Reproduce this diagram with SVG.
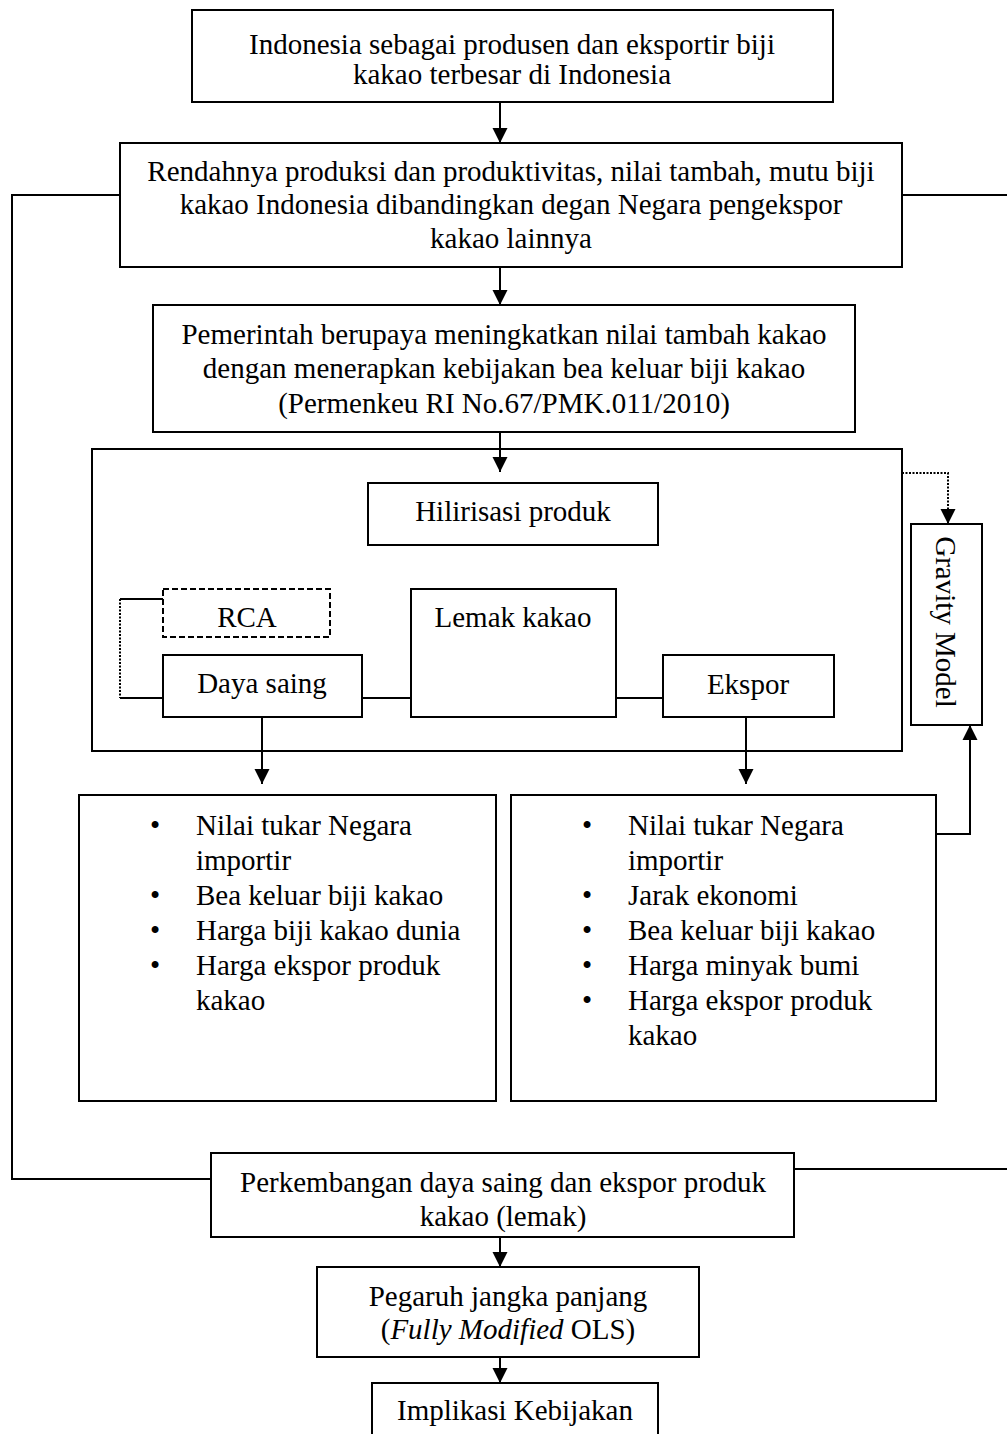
<svg xmlns="http://www.w3.org/2000/svg" width="1007" height="1434" viewBox="0 0 1007 1434">
<style>
  .box { fill: #fff; stroke: #000; stroke-width: 2; }
  .dash { fill: #fff; stroke: #000; stroke-width: 2; stroke-dasharray: 6 3; }
  .t { font-family: "Liberation Serif", "Times New Roman", serif; font-size: 29px; fill: #000; }
  .c { text-anchor: middle; }
  .ln { fill: none; stroke: #000; stroke-width: 2; }
  .dot { fill: none; stroke: #000; stroke-width: 2; stroke-dasharray: 2 1.5; }
</style>
<defs>
  <marker id="ah" markerUnits="userSpaceOnUse" markerWidth="16" markerHeight="16" viewBox="0 0 16 16" refX="15" refY="8" orient="auto">
    <path d="M0,0.5 L15,8 L0,15.5 Z" fill="#000"/>
  </marker>
</defs>
<rect width="1007" height="1434" fill="#fff"/>

<g id="connectors">
  <line class="ln" x1="500" y1="102" x2="500" y2="143" marker-end="url(#ah)"/>
  <line class="ln" x1="500" y1="267" x2="500" y2="305" marker-end="url(#ah)"/>
  <line class="ln" x1="500" y1="432" x2="500" y2="472" marker-end="url(#ah)"/>
  <line class="ln" x1="262" y1="717" x2="262" y2="784" marker-end="url(#ah)"/>
  <line class="ln" x1="746" y1="717" x2="746" y2="784" marker-end="url(#ah)"/>
  <line class="ln" x1="362" y1="698" x2="411" y2="698"/>
  <line class="ln" x1="616" y1="698" x2="663" y2="698"/>
  <polyline class="ln" points="163,599 120,599"/>
  <line class="dot" x1="120" y1="599" x2="120" y2="698"/>
  <polyline class="ln" points="120,698 163,698"/>
  <polyline class="dot" points="902,473 948,473 948,508"/>
  <line class="ln" x1="948" y1="508" x2="948" y2="524" marker-end="url(#ah)"/>
  <polyline class="ln" points="936,834 970,834 970,725" marker-end="url(#ah)"/>
  <polyline class="ln" points="120,195 12,195 12,1179 211,1179"/>
  <line class="ln" x1="902" y1="195" x2="1007" y2="195"/>
  <line class="ln" x1="794" y1="1169" x2="1007" y2="1169"/>
  <line class="ln" x1="500" y1="1237" x2="500" y2="1267" marker-end="url(#ah)"/>
  <line class="ln" x1="500" y1="1357" x2="500" y2="1383" marker-end="url(#ah)"/>
</g>

<g id="n1">
  <rect class="box" x="192" y="10" width="641" height="92"/>
  <text class="t c" x="512" y="54">Indonesia sebagai produsen dan eksportir biji</text>
  <text class="t c" x="512" y="84">kakao terbesar di Indonesia</text>
</g>

<g id="n2">
  <rect class="box" x="120" y="143" width="782" height="124"/>
  <text class="t c" x="511" y="181">Rendahnya produksi dan produktivitas, nilai tambah, mutu biji</text>
  <text class="t c" x="511" y="214">kakao Indonesia dibandingkan degan Negara pengekspor</text>
  <text class="t c" x="511" y="248">kakao lainnya</text>
</g>

<g id="n3">
  <rect class="box" x="153" y="305" width="702" height="127"/>
  <text class="t c" x="504" y="344">Pemerintah berupaya meningkatkan nilai tambah kakao</text>
  <text class="t c" x="504" y="378">dengan menerapkan kebijakan bea keluar biji kakao</text>
  <text class="t c" x="504" y="413">(Permenkeu RI No.67/PMK.011/2010)</text>
</g>

<g id="frame">
  <rect x="92" y="449" width="810" height="302" fill="none" stroke="#000" stroke-width="2"/>
</g>

<g id="hilirisasi">
  <rect class="box" x="368" y="483" width="290" height="62"/>
  <text class="t c" x="513" y="521">Hilirisasi produk</text>
</g>

<g id="rca">
  <rect class="dash" x="163" y="589" width="167" height="48"/>
  <text class="t c" x="247" y="627">RCA</text>
</g>

<g id="dayasaing">
  <rect class="box" x="163" y="655" width="199" height="62"/>
  <text class="t c" x="262" y="693">Daya saing</text>
</g>

<g id="lemak">
  <rect class="box" x="411" y="589" width="205" height="128"/>
  <text class="t c" x="513" y="627">Lemak kakao</text>
</g>

<g id="ekspor">
  <rect class="box" x="663" y="655" width="171" height="62"/>
  <text class="t c" x="748" y="694">Ekspor</text>
</g>

<g id="gravity">
  <rect class="box" x="911" y="524" width="71" height="201"/>
  <text class="t c" transform="translate(936,622) rotate(90)" x="0" y="0">Gravity Model</text>
</g>

<g id="leftfactors">
  <rect class="box" x="79" y="795" width="417" height="306"/>
  <text class="t c" x="155" y="835">•</text>
  <text class="t" x="196" y="835">Nilai tukar Negara</text>
  <text class="t" x="196" y="870">importir</text>
  <text class="t c" x="155" y="905">•</text>
  <text class="t" x="196" y="905">Bea keluar biji kakao</text>
  <text class="t c" x="155" y="940">•</text>
  <text class="t" x="196" y="940">Harga biji kakao dunia</text>
  <text class="t c" x="155" y="975">•</text>
  <text class="t" x="196" y="975">Harga ekspor produk</text>
  <text class="t" x="196" y="1010">kakao</text>
</g>

<g id="rightfactors">
  <rect class="box" x="511" y="795" width="425" height="306"/>
  <text class="t c" x="587" y="835">•</text>
  <text class="t" x="628" y="835">Nilai tukar Negara</text>
  <text class="t" x="628" y="870">importir</text>
  <text class="t c" x="587" y="905">•</text>
  <text class="t" x="628" y="905">Jarak ekonomi</text>
  <text class="t c" x="587" y="940">•</text>
  <text class="t" x="628" y="940">Bea keluar biji kakao</text>
  <text class="t c" x="587" y="975">•</text>
  <text class="t" x="628" y="975">Harga minyak bumi</text>
  <text class="t c" x="587" y="1010">•</text>
  <text class="t" x="628" y="1010">Harga ekspor produk</text>
  <text class="t" x="628" y="1045">kakao</text>
</g>

<g id="perkembangan">
  <rect class="box" x="211" y="1153" width="583" height="84"/>
  <text class="t c" x="503" y="1192">Perkembangan daya saing dan ekspor produk</text>
  <text class="t c" x="503" y="1226">kakao (lemak)</text>
</g>

<g id="pegaruh">
  <rect class="box" x="317" y="1267" width="382" height="90"/>
  <text class="t c" x="508" y="1306">Pegaruh jangka panjang</text>
  <text class="t c" x="508" y="1339">(<tspan font-style="italic">Fully Modified</tspan> OLS)</text>
</g>

<g id="implikasi">
  <rect class="box" x="372" y="1383" width="286" height="60"/>
  <text class="t c" x="515" y="1420">Implikasi Kebijakan</text>
</g>
</svg>
